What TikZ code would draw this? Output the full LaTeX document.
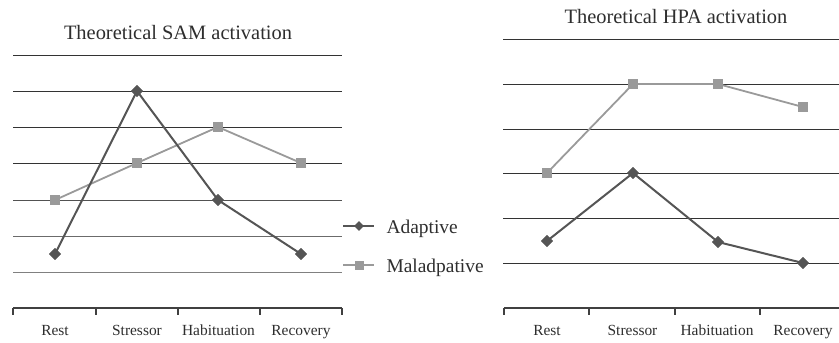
\documentclass[tikz,border=0pt]{standalone}
\usepackage{fontspec}
\setmainfont{Liberation Serif}
\usetikzlibrary{shapes.geometric}
\definecolor{adapt}{HTML}{555555}
\definecolor{malad}{HTML}{9A9A9A}
\definecolor{txt}{HTML}{2E2E2E}
\begin{document}
\begin{tikzpicture}[x=1bp,y=-1bp,
 gridline/.style={line width=1bp, draw=#1}, gridline/.default=black!80,
 axisline/.style={line width=1.1bp, draw=black!75},
 dmark/.style={diamond, fill=adapt, inner sep=0pt, minimum size=#1}, dmark/.default=12bp,
 smark/.style={rectangle, fill=malad, inner sep=0pt, minimum size=#1}, smark/.default=10.5bp,
 aline/.style={line width=2bp, draw=adapt},
 mline/.style={line width=1.8bp, draw=malad},
 ttl/.style={font=\fontsize{20.5}{24}\selectfont, text=txt, anchor=base},
 cat/.style={font=\fontsize{15.5}{18}\selectfont, text=txt, anchor=base},
 leg/.style={font=\fontsize{19.5}{23}\selectfont, text=txt, anchor=base west},
]
\useasboundingbox (0,0) rectangle (839,342);

% ---------- Left chart ----------
\node[ttl] (t1) at (178,39) {Theoretical SAM activation};
\foreach \y/\c in {55/black!80,91/black!80,127/black!80,163/black!80,200/black!68,236/black!58,272/black!50}
  \draw[gridline=\c] (13,\y) -- (342,\y);
\draw[axisline] (13,308) -- (342,308);
\foreach \x in {13,96,178,260,342}
  \draw[axisline] (\x,308) -- (\x,315);
\node[cat] (c1) at (55,335) {Rest};
\node[cat] (c2) at (137,335) {Stressor};
\node[cat] (c3) at (218.5,335) {Habituation};
\node[cat] (c4) at (301,335) {Recovery};

\node[smark] (m1) at (55,200) {};
\node[smark] (m2) at (137,163) {};
\node[smark] (m3) at (218,127) {};
\node[smark] (m4) at (301,163) {};
\draw[mline] (m1.center) -- (m2.center) -- (m3.center) -- (m4.center);

\node[dmark] (a1) at (55,254) {};
\node[dmark] (a2) at (137,91) {};
\node[dmark] (a3) at (218,200) {};
\node[dmark] (a4) at (301,254) {};
\draw[aline] (a1.center) -- (a2.center) -- (a3.center) -- (a4.center);
\foreach \n in {m1,m2,m3,m4} \node[smark] at (\n) {};
\foreach \n in {a1,a2,a3,a4} \node[dmark] at (\n) {};

% ---------- Legend ----------
\coordinate (la1) at (343,226);
\coordinate (la2) at (374,226);
\coordinate (lm1) at (343,265);
\coordinate (lm2) at (374,265);
\draw[aline] (la1) -- (la2);
\node[dmark=10bp] (la) at (359,226) {};
\draw[mline] (lm1) -- (lm2);
\node[smark=9bp] (lm) at (359,265) {};
\node[leg] (lt1) at (383,233) {Adaptive};
\node[leg] (lt2) at (383,272) {Maladpative};

% ---------- Right chart ----------
\node[ttl] (t2) at (676,23) {Theoretical HPA activation};
\foreach \y in {39,84,129,173,218,263}
  \draw[gridline] (503,\y) -- (839,\y);
\draw[axisline] (504,308) -- (839,308);
\foreach \x in {504,589,675,760}
  \draw[axisline] (\x,308) -- (\x,315);
\node[cat] (d1) at (547,335) {Rest};
\node[cat] (d2) at (632.5,335) {Stressor};
\node[cat] (d3) at (717,335) {Habituation};
\node[cat] (d4) at (803,335) {Recovery};

\node[smark] (n1) at (547,173) {};
\node[smark] (n2) at (633,84) {};
\node[smark] (n3) at (718,84) {};
\node[smark] (n4) at (803,107) {};
\draw[mline] (n1.center) -- (n2.center) -- (n3.center) -- (n4.center);

\node[dmark] (b1) at (547,241) {};
\node[dmark] (b2) at (633,173) {};
\node[dmark] (b3) at (718,242) {};
\node[dmark] (b4) at (803,263) {};
\draw[aline] (b1.center) -- (b2.center) -- (b3.center) -- (b4.center);
\foreach \n in {n1,n2,n3,n4} \node[smark] at (\n) {};
\foreach \n in {b1,b2,b3,b4} \node[dmark] at (\n) {};
\end{tikzpicture}
\end{document}
